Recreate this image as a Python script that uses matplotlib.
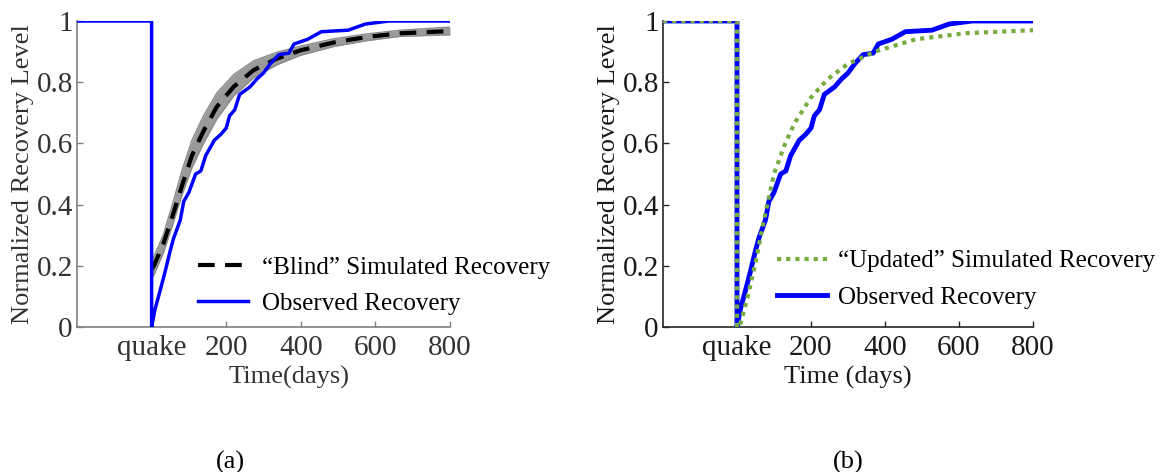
import matplotlib
matplotlib.use("Agg")
import matplotlib.pyplot as plt
import numpy as np

plt.rcParams['font.family'] = ['Liberation Serif', 'DejaVu Serif']

# ---- data ----
# observed recovery (days after quake, normalized level)
obs_t = [-200, 0, 0, 9, 23, 36, 50, 59, 68, 77, 86, 100, 118, 132, 145, 168, 186,
         200, 209, 223, 236, 264, 282, 300, 318, 341, 368, 382, 418, 455, 527,
         573, 636, 800]
obs_y = [1, 1, 0, 0.057, 0.12, 0.18, 0.25, 0.29, 0.32, 0.35, 0.41, 0.44, 0.50,
         0.51, 0.56, 0.61, 0.63, 0.65, 0.69, 0.71, 0.76, 0.785, 0.81, 0.83, 0.86,
         0.89, 0.895, 0.925, 0.94, 0.965, 0.97, 0.99, 1.0, 1.0]

# "Blind" simulated recovery (mean) and band of simulations
blind_t = [0, 6, 31, 58, 81, 108, 139, 175, 220, 274, 336, 399, 489, 578, 668, 800]
blind_y = [0.19, 0.2, 0.27, 0.37, 0.46, 0.56, 0.64, 0.72, 0.785, 0.84, 0.877,
           0.904, 0.93, 0.948, 0.96, 0.967]
band_lo = [0.16, 0.17, 0.24, 0.34, 0.43, 0.52, 0.60, 0.68, 0.755, 0.815, 0.857,
           0.888, 0.917, 0.936, 0.95, 0.955]
band_hi = [0.22, 0.23, 0.30, 0.41, 0.51, 0.61, 0.69, 0.765, 0.825, 0.87, 0.898,
           0.918, 0.942, 0.958, 0.97, 0.98]

# "Updated" simulated recovery
upd_t = [-200, 0, 0, 7, 27, 50, 73, 100, 127, 155, 200, 245, 300, 373, 482, 618, 800]
upd_y = [1, 1, 0, 0, 0.09, 0.21, 0.35, 0.50, 0.59, 0.665, 0.75, 0.81, 0.86,
         0.90, 0.94, 0.96, 0.97]

xticks = [0, 200, 400, 600, 800]
xticklabels = ['quake', '200', '400', '600', '800']
yticks = [0, 0.2, 0.4, 0.6, 0.8, 1]
yticklabels = ['0', '0.2', '0.4', '0.6', '0.8', '1']

W, H = 1165, 472
fig = plt.figure(figsize=(W / 100, H / 100), dpi=100)

def px_axes(x0, x1, y0, y1):
    return fig.add_axes([x0 / W, 1 - y1 / H, (x1 - x0) / W, (y1 - y0) / H])

def style(ax, spine_color, tick_color):
    ax.set_xlim(-200, 800)
    ax.set_ylim(0, 1)
    ax.set_xticks(xticks)
    ax.set_xticklabels(xticklabels)
    ax.set_yticks(yticks)
    ax.set_yticklabels(yticklabels)
    for s in ['top', 'right']:
        ax.spines[s].set_visible(False)
    for s in ['left', 'bottom']:
        ax.spines[s].set_color(spine_color)
        ax.spines[s].set_linewidth(1.2)
    ax.tick_params(direction='in', length=4, width=1, colors=spine_color,
                   labelcolor=tick_color, labelsize=21)
    ax.tick_params(axis='y', pad=3)
    ax.tick_params(axis='x', pad=6)
    ax.set_ylabel('Normalized Recovery Level', fontsize=19, color=tick_color,
                  labelpad=2)

# ---- panel (a) ----
ax1 = px_axes(77, 450, 21, 327)
style(ax1, '#808080', '#333333')
ax1.fill_between(blind_t, band_lo, band_hi, color='#9a9a9a', lw=0, zorder=1)
ax1.plot(blind_t, band_lo, color='#8c8c8c', lw=1, zorder=1)
ax1.plot(blind_t, band_hi, color='#8c8c8c', lw=1, zorder=1)
l1, = ax1.plot(blind_t, blind_y, color='black', lw=3, ls=(0, (4, 2.5)), zorder=3,
               label='\u201cBlind\u201d Simulated Recovery')
l2, = ax1.plot(obs_t, obs_y, color='#0000ff', lw=2.5, zorder=4,
               label='Observed Recovery')
ax1.legend(handles=[l1, l2], loc='lower left', bbox_to_anchor=(0.324, 0.04),
           frameon=False, fontsize=18, handlelength=2.0, handletextpad=0.56,
           labelspacing=0.55, borderpad=0, borderaxespad=0)
ax1.set_xlabel('Time(days)', fontsize=19, color='#333333')
ax1.xaxis.set_label_coords(0.568, -0.127)

# ---- panel (b) ----
ax2 = px_axes(663, 1033, 21, 327)
style(ax2, '#262626', '#1a1a1a')
m2, = ax2.plot(obs_t, obs_y, color='#0000ff', lw=3.5, zorder=3,
               label='Observed Recovery')
m1, = ax2.plot(upd_t, upd_y, color='#77ac41', lw=3, ls=(0, (1, 1.2)), zorder=4,
               label='\u201cUpdated\u201d Simulated Recovery')
ax2.legend(handles=[m1, m2], loc='lower left', bbox_to_anchor=(0.308, 0.06),
           frameon=False, fontsize=18, handlelength=2.0, handletextpad=0.44,
           labelspacing=0.55, borderpad=0, borderaxespad=0)
ax2.set_xlabel('Time (days)', fontsize=19, color='#1a1a1a')
ax2.xaxis.set_label_coords(0.5, -0.127)

fig.text(230 / W, 1 - 462 / H, '(a)', fontsize=19, ha='center', va='center')
fig.text(848 / W, 1 - 462 / H, '(b)', fontsize=19, ha='center', va='center')

fig.savefig('out.png', dpi=100)
